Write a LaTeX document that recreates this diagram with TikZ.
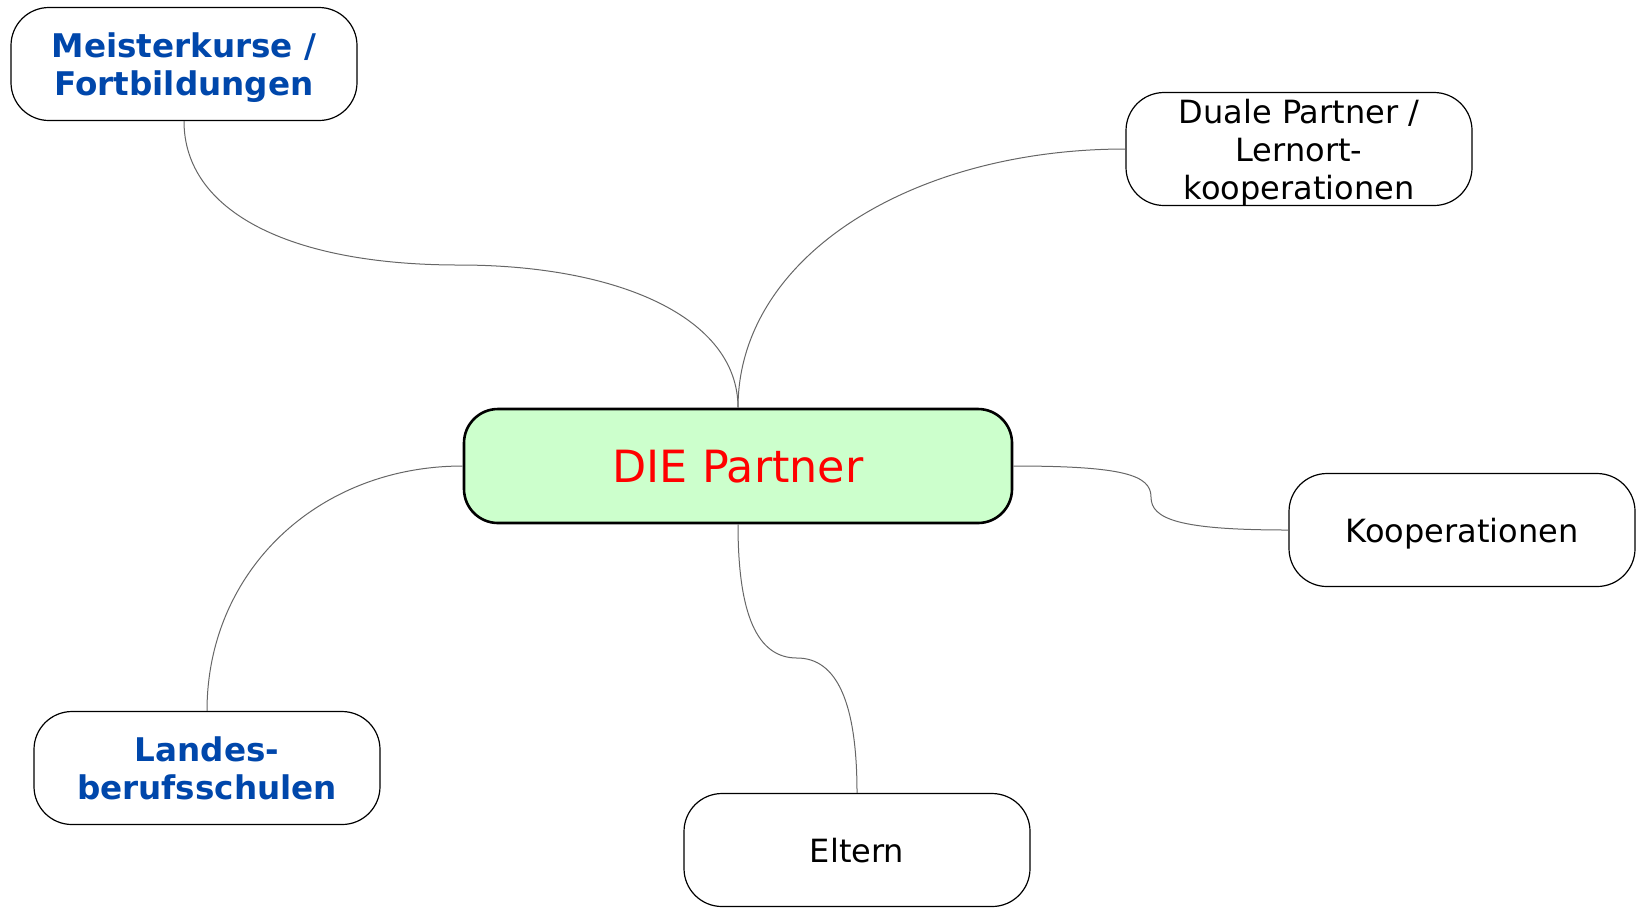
\documentclass[tikz,border=0pt]{standalone}
\usepackage{fontspec}
\setmainfont{DejaVu Sans}
\usepackage{tikz}

\definecolor{TopicBlue}{RGB}{0,71,171}
\definecolor{HubGreen}{RGB}{204,255,204}
\definecolor{LinkGray}{RGB}{102,102,102}

\begin{document}
\begin{tikzpicture}[x=0.5pt, y=-0.5pt,
  hub/.style={rectangle, rounded corners=17pt, draw=black, line width=1.3pt,
    fill=HubGreen, minimum width=274pt, minimum height=57pt, inner sep=0pt,
    text depth=0pt, text=red, font=\fontsize{22.2}{26}\selectfont},
  %
  topic/.style={rectangle, rounded corners=19pt, draw=black, line width=0.6pt,
    fill=white, minimum width=173pt, minimum height=56.5pt, inner sep=0pt,
    text depth=0pt, align=center, font=\fontsize{16}{19}\selectfont},
  %
  school/.style={topic, text=TopicBlue, font=\fontsize{16.3}{19}\selectfont\bfseries},
  %
  link/.style={draw=LinkGray, line width=0.5pt}
  ]

  \useasboundingbox (0,0) rectangle (1636,907);

  \begin{scope}
    \node [hub] (hub) at (738,466) {DIE Partner};
    \node [school] (meister) at (184,64) {Meisterkurse /\\Fortbildungen};
    \node [topic] (duale) at (1299,149) {Duale Partner /\\Lernort-\\kooperationen};
    \node [topic] (koop) at (1462,530) {Kooperationen};
    \node [school] (landes) at (207,768) {Landes-\\berufsschulen};
    \node [topic] (eltern) at (857,850) {Eltern};
  \end{scope}

  \begin{scope}
    \coordinate (mbend) at (459,265);
    \coordinate (kbend) at (1151,497);
    \coordinate (ebend) at (797,658);
    \draw [link] (meister.south) .. controls +(0,90) and +(-170,0) .. (mbend)
      .. controls +(160,0) and +(0,-90) .. (hub.north);
    \draw [link] (hub.north) .. controls +(0,-150) and +(-215,0) .. (duale.west);
    \draw [link] (hub.east) .. controls +(110,0) and +(0,-22) .. (kbend)
      .. controls +(0,22) and +(-110,0) .. (koop.west);
    \draw [link] (hub.south) .. controls +(0,90) and +(-40,0) .. (ebend)
      .. controls +(40,0) and +(0,-90) .. (eltern.north);
    \draw [link] (hub.west) .. controls +(-145,0) and +(0,-140) .. (landes.north);
  \end{scope}

\end{tikzpicture}
\end{document}
